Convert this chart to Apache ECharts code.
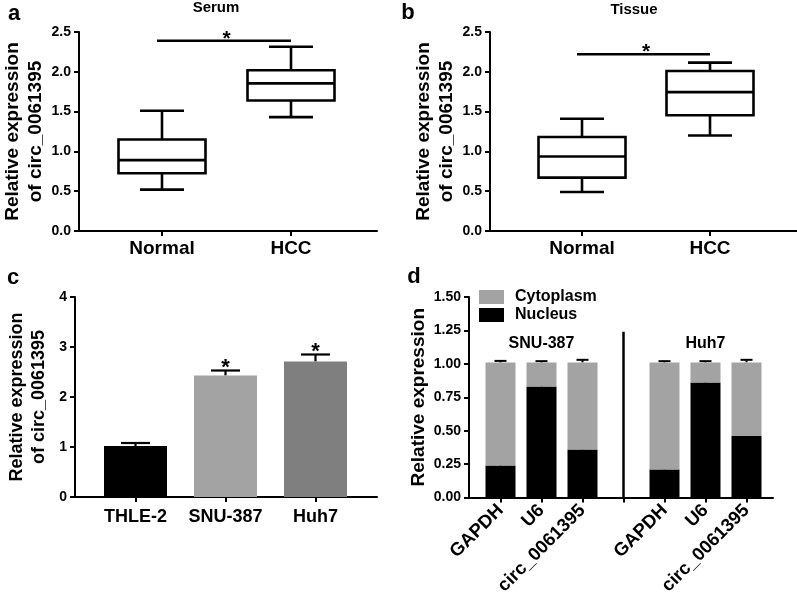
<!DOCTYPE html>
<html><head><meta charset="utf-8">
<script src="https://cdn.jsdelivr.net/npm/echarts@6.0.0/dist/echarts.min.js"></script>
<style>html,body{margin:0;padding:0;background:#fff}#c{width:797px;height:602px}</style>
</head><body><div id="c"></div>
<script>
// ---------- data ----------
// Panels a / b : box plots [min, Q1, median, Q3, max]
const groupsAB = ['Normal', 'HCC'];
const serumNormal = [0.52, 0.725, 0.89, 1.15, 1.51];
const serumHCC = [1.43, 1.64, 1.855, 2.02, 2.315];
const serumSigLevel = 2.39;
const tissueNormal = [0.49, 0.67, 0.935, 1.18, 1.41];
const tissueHCC = [1.2, 1.455, 1.745, 2.01, 2.115];
const tissueSigLevel = 2.22;
// Panel c : bars with SEM
const cellLines = ['THLE-2', 'SNU-387', 'Huh7'];
const cellMeans = [1.02, 2.43, 2.71];
const cellErr = [0.06, 0.10, 0.14];
const cellMarks = ['', '*', '*'];
// Panel d : nuclear / cytoplasmic fractions
const fracCats = ['GAPDH', 'U6', 'circ_0061395', ' ', 'GAPDH', 'U6', 'circ_0061395'];
const nucleus = [0.24, 0.83, 0.36, '-', 0.21, 0.86, 0.46];
const nucleusErr = [0.015, 0.012, 0.022, '-', 0.01, 0.014, 0.02];
const cytoplasm = [0.77, 0.18, 0.65, '-', 0.80, 0.15, 0.55];
const cytoplasmErr = [0.012, 0.01, 0.02, '-', 0.01, 0.01, 0.02];
const fracGroups = ['SNU-387', 'Huh7'];
const fracGroupIndex = [1, 5];
const fracGroupLevel = 1.155;
const separatorIndex = 3;
const separatorTop = 1.24;

// ---------- style ----------
const FONT = '"Liberation Sans", Arial, sans-serif';
const BLACK = '#000';
const barColors = ['#000000', '#a3a3a3', '#7f7f7f'];
const cytoColor = '#a3a3a3';

function txt(x, y, text, size, align) {
  return {type: 'text', x: x, y: y, silent: true,
    style: {text: text, fill: BLACK, font: 'bold ' + size + 'px ' + FONT,
      textAlign: align || 'center', textVerticalAlign: 'middle', align: align || 'center', verticalAlign: 'middle'}};
}

function outerX(gi) {
  return {gridIndex: gi, type: 'value', min: 0, max: 1,
    axisLine: {show: true, onZero: false, lineStyle: {color: BLACK, width: 2}},
    axisTick: {show: false}, axisLabel: {show: false}, splitLine: {show: false}};
}
function outerY(gi, min, max, interval, digits, name, nameGap, nameSize) {
  return {gridIndex: gi, type: 'value', min: min, max: max, interval: interval,
    name: name, nameLocation: 'middle', nameRotate: 90, nameGap: nameGap,
    nameTextStyle: {fontSize: nameSize, fontWeight: 'bold', color: BLACK, fontFamily: FONT, lineHeight: nameSize + 4},
    axisLine: {show: true, lineStyle: {color: BLACK, width: 2}},
    axisTick: {show: true, length: 5, lineStyle: {color: BLACK, width: 2}},
    axisLabel: {margin: 8, fontSize: 14, fontWeight: 'bold', color: BLACK, fontFamily: FONT,
      formatter: function (v) { return v.toFixed(digits); }},
    splitLine: {show: false}};
}
function innerX(gi, cats, size, rotate, margin) {
  return {gridIndex: gi, type: 'category', data: cats,
    axisLine: {show: false},
    axisTick: {show: true, alignWithLabel: true, interval: 0, length: 5, lineStyle: {color: BLACK, width: 2}},
    axisLabel: {interval: 0, rotate: rotate, margin: margin, fontSize: size, fontWeight: 'bold', color: BLACK, fontFamily: FONT},
    splitLine: {show: false}};
}
function innerY(gi, min, max) {
  return {gridIndex: gi, type: 'value', min: min, max: max, show: false};
}

function boxRender(params, api) {
  const x = api.value(0);
  const pMin = api.coord([x, api.value(1)]);
  const pQ1 = api.coord([x, api.value(2)]);
  const pMed = api.coord([x, api.value(3)]);
  const pQ3 = api.coord([x, api.value(4)]);
  const pMax = api.coord([x, api.value(5)]);
  const cx = pMed[0], hw = 43.5, cw = 22;
  const st = {stroke: BLACK, lineWidth: 2.6, fill: null};
  return {type: 'group', children: [
    {type: 'line', shape: {x1: cx, y1: pQ3[1], x2: cx, y2: pMax[1]}, style: st},
    {type: 'line', shape: {x1: cx, y1: pQ1[1], x2: cx, y2: pMin[1]}, style: st},
    {type: 'line', shape: {x1: cx - cw, y1: pMax[1], x2: cx + cw, y2: pMax[1]}, style: st},
    {type: 'line', shape: {x1: cx - cw, y1: pMin[1], x2: cx + cw, y2: pMin[1]}, style: st},
    {type: 'rect', shape: {x: cx - hw, y: pQ3[1], width: 2 * hw, height: pQ1[1] - pQ3[1]},
      style: {stroke: BLACK, fill: '#fff', lineWidth: 2.6}},
    {type: 'line', shape: {x1: cx - hw, y1: pMed[1], x2: cx + hw, y2: pMed[1]}, style: st}
  ]};
}
function sigRender(params, api) {
  const a = api.coord([api.value(0), api.value(2)]);
  const b = api.coord([api.value(1), api.value(2)]);
  return {type: 'group', children: [
    {type: 'line', shape: {x1: a[0] - 5, y1: a[1], x2: b[0], y2: b[1]}, style: {stroke: BLACK, lineWidth: 2.6}},
    {type: 'text', x: (a[0] + b[0]) / 2, y: a[1] - 2,
      style: {text: '*', fill: BLACK, font: 'bold 21px ' + FONT, textAlign: 'center', textVerticalAlign: 'middle', align: 'center', verticalAlign: 'middle'}}
  ]};
}
function errRender(cap, lw, starSize) {
  return function (params, api) {
    const x = api.value(0);
    const p0 = api.coord([x, api.value(1)]);
    const p1 = api.coord([x, api.value(1) + api.value(2)]);
    const children = [
      {type: 'line', shape: {x1: p0[0], y1: p0[1], x2: p1[0], y2: p1[1]}, style: {stroke: BLACK, lineWidth: lw}},
      {type: 'line', shape: {x1: p1[0] - cap, y1: p1[1], x2: p1[0] + cap, y2: p1[1]}, style: {stroke: BLACK, lineWidth: lw}}
    ];
    const mark = api.value(3);
    if (starSize && mark) {
      children.push({type: 'text', x: p1[0], y: p1[1] - 3,
        style: {text: String(mark), fill: BLACK, font: 'bold ' + starSize + 'px ' + FONT, textAlign: 'center', textVerticalAlign: 'middle', align: 'center', verticalAlign: 'middle'}});
    }
    return {type: 'group', children: children};
  };
}

const cellErrData = cellLines.map(function (c, i) { return [i, cellMeans[i], cellErr[i], cellMarks[i]]; });
const fracErrData = [];
fracCats.forEach(function (c, i) {
  if (nucleus[i] === '-') return;
  fracErrData.push([i, nucleus[i], nucleusErr[i], '']);
  fracErrData.push([i, nucleus[i] + cytoplasm[i], cytoplasmErr[i], '']);
});

const option = {
  animation: false,
  textStyle: {fontFamily: FONT, color: BLACK},
  grid: [
    {left: 76, top: 32, width: 301, height: 199},
    {left: 97.5, top: 32, width: 258, height: 199},
    {left: 490, top: 32, width: 307, height: 199},
    {left: 518, top: 32, width: 256, height: 199},
    {left: 75, top: 297, width: 302, height: 200},
    {left: 90.5, top: 297, width: 270, height: 200},
    {left: 469, top: 297, width: 304, height: 200.5},
    {left: 480, top: 297, width: 287, height: 200.5}
  ],
  xAxis: [
    outerX(0), innerX(1, groupsAB, 19, 0, 8),
    outerX(2), innerX(3, groupsAB, 19, 0, 8),
    outerX(4), innerX(5, cellLines, 18, 0, 11),
    outerX(6), innerX(7, fracCats, 18.5, 45, 10)
  ],
  yAxis: [
    outerY(0, 0, 2.5, 0.5, 1, 'Relative expression\nof circ_0061395', 32, 19), innerY(1, 0, 2.5),
    outerY(2, 0, 2.5, 0.5, 1, 'Relative expression\nof circ_0061395', 31, 19), innerY(3, 0, 2.5),
    outerY(4, 0, 4, 1, 0, 'Relative expression\nof circ_0061395', 25, 18), innerY(5, 0, 4),
    outerY(6, 0, 1.5, 0.25, 2, 'Relative expression', 38, 19), innerY(7, 0, 1.5)
  ],
  legend: {
    data: ['Cytoplasm', 'Nucleus'], orient: 'vertical', left: 479, top: 289, padding: 0,
    itemWidth: 25, itemHeight: 14, itemGap: 2, icon: 'rect', selectedMode: false,
    textStyle: {fontSize: 16, fontWeight: 'bold', color: BLACK, fontFamily: FONT, padding: [0, 0, 0, 6]}
  },
  series: [
    {type: 'custom', xAxisIndex: 1, yAxisIndex: 1, renderItem: boxRender, silent: true,
      data: [[0].concat(serumNormal), [1].concat(serumHCC)], encode: {x: 0, y: [1, 2, 3, 4, 5]}},
    {type: 'custom', xAxisIndex: 1, yAxisIndex: 1, renderItem: sigRender, silent: true,
      data: [[0, 1, serumSigLevel]], encode: {x: 0, y: 2}},
    {type: 'custom', xAxisIndex: 3, yAxisIndex: 3, renderItem: boxRender, silent: true,
      data: [[0].concat(tissueNormal), [1].concat(tissueHCC)], encode: {x: 0, y: [1, 2, 3, 4, 5]}},
    {type: 'custom', xAxisIndex: 3, yAxisIndex: 3, renderItem: sigRender, silent: true,
      data: [[0, 1, tissueSigLevel]], encode: {x: 0, y: 2}},
    {type: 'bar', xAxisIndex: 5, yAxisIndex: 5, barWidth: 63, silent: true, data: cellMeans,
      itemStyle: {color: function (p) { return barColors[p.dataIndex]; }}},
    {type: 'custom', xAxisIndex: 5, yAxisIndex: 5, renderItem: errRender(14.5, 2.2, 22), silent: true,
      data: cellErrData, encode: {x: 0, y: 1}},
    {type: 'bar', name: 'Nucleus', xAxisIndex: 7, yAxisIndex: 7, stack: 'frac', barWidth: 30, silent: true,
      data: nucleus, itemStyle: {color: BLACK}},
    {type: 'bar', name: 'Cytoplasm', xAxisIndex: 7, yAxisIndex: 7, stack: 'frac', barWidth: 30, silent: true,
      data: cytoplasm, itemStyle: {color: cytoColor}},
    {type: 'custom', xAxisIndex: 7, yAxisIndex: 7, renderItem: errRender(6, 2, 0), silent: true,
      data: fracErrData, encode: {x: 0, y: 1}},
    {type: 'custom', xAxisIndex: 7, yAxisIndex: 7, silent: true,
      data: [[separatorIndex, separatorTop]], encode: {x: 0, y: 1},
      renderItem: function (params, api) {
        const a = api.coord([api.value(0), 0]);
        const b = api.coord([api.value(0), api.value(1)]);
        return {type: 'line', shape: {x1: a[0], y1: a[1], x2: b[0], y2: b[1]}, style: {stroke: BLACK, lineWidth: 2.5}};
      }},
    {type: 'custom', xAxisIndex: 7, yAxisIndex: 7, silent: true,
      data: fracGroupIndex.map(function (g) { return [g, fracGroupLevel]; }), encode: {x: 0, y: 1},
      renderItem: function (params, api) {
        const p = api.coord([api.value(0), api.value(1)]);
        return {type: 'text', x: p[0], y: p[1],
          style: {text: fracGroups[params.dataIndex], fill: BLACK, font: 'bold 16px ' + FONT,
            textAlign: 'center', textVerticalAlign: 'middle', align: 'center', verticalAlign: 'middle'}};
      }}
  ],
  graphic: [
    txt(14, 14, 'a', 22), txt(216, 8, 'Serum', 15),
    txt(408, 13, 'b', 22), txt(634, 10, 'Tissue', 15),
    txt(13, 278, 'c', 22),
    txt(414, 277, 'd', 22)
  ]
};
const chart = echarts.init(document.getElementById('c'));
chart.setOption(option);
</script>
</body></html>
